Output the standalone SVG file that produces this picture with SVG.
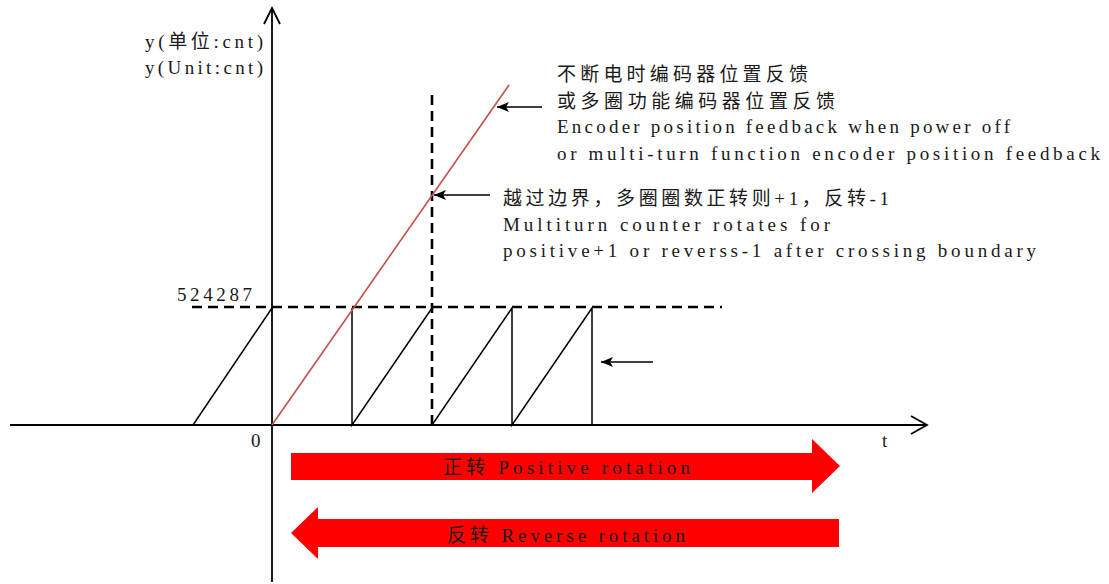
<svg xmlns="http://www.w3.org/2000/svg" width="1109" height="584" viewBox="0 0 1109 584">
<style>
text{font-family:"Liberation Serif","Noto Sans CJK SC",serif;font-size:19px;fill:#1a1a1a}
.ax{stroke:#000;stroke-width:1.8;fill:none}
.saw{stroke:#000;stroke-width:1.5;fill:none}
.dash{stroke:#000;stroke-width:2.6;stroke-dasharray:10 6;fill:none}
.red{stroke:#C0504D;stroke-width:1.6;fill:none}
.ptr{stroke:#000;stroke-width:1.6;fill:none;marker-end:url(#ah)}
.big{fill:#FF0000}
</style>
<defs>
<marker id="ah" viewBox="0 0 12 10" refX="12" refY="5" markerWidth="12" markerHeight="10" markerUnits="userSpaceOnUse" orient="auto">
<path d="M0,0 L12,5 L0,10 L3,5 Z" fill="#000"/>
</marker>
</defs>
<g id="axes">
<line class="ax" x1="272" y1="8" x2="272" y2="582"/>
<polyline class="ax" points="264,24 272,8 280,24"/>
<line class="ax" x1="10" y1="425" x2="926" y2="425"/>
<polyline class="ax" points="911,416 927,425 911,434"/>
<text x="145" y="48" textLength="118" lengthAdjust="spacing">y(单位:cnt)</text>
<text x="145" y="74" textLength="118" lengthAdjust="spacing">y(Unit:cnt)</text>
<text x="251" y="447">0</text>
<text x="882" y="447">t</text>
<text x="177" y="301" textLength="75" lengthAdjust="spacing">524287</text>
</g>
<g id="connectors">
<line class="dash" x1="192" y1="307" x2="722" y2="307"/>
<line class="dash" x1="432" y1="95" x2="432" y2="425"/>
<polyline class="saw" points="193,425 272,308"/>
<polyline class="saw" points="352,308 352,425 432,308"/>
<polyline class="saw" points="432,425 512,308 512,425 592,308 592,425"/>
<line class="red" x1="272" y1="425" x2="509" y2="85"/>
<line class="ptr" x1="542" y1="107" x2="497" y2="107"/>
<line class="ptr" x1="490" y1="195" x2="434" y2="195"/>
<line class="ptr" x1="653" y1="362" x2="601" y2="362"/>
</g>
<g id="note-feedback">
<text x="557" y="81" textLength="251" lengthAdjust="spacing">不断电时编码器位置反馈</text>
<text x="557" y="108" textLength="278" lengthAdjust="spacing">或多圈功能编码器位置反馈</text>
<text x="557" y="133" textLength="453" lengthAdjust="spacing">Encoder position feedback when power off</text>
<text x="557" y="160" textLength="543" lengthAdjust="spacing">or multi-turn function encoder position feedback</text>
</g>
<g id="note-boundary">
<text x="503" y="205" textLength="386" lengthAdjust="spacing">越过边界，多圈圈数正转则+1，反转-1</text>
<text x="503" y="231" textLength="327" lengthAdjust="spacing">Multiturn counter rotates for</text>
<text x="503" y="257" textLength="533" lengthAdjust="spacing">positive+1 or reverss-1 after crossing boundary</text>
</g>
<g id="positive-rotation">
<path class="big" d="M291,453 L812,453 L812,439 L840,466 L812,493 L812,480 L291,480 Z"/>
<text x="443" y="474" textLength="247" lengthAdjust="spacing">正转 Positive rotation</text>
</g>
<g id="reverse-rotation">
<path class="big" d="M839,519 L318,519 L318,507 L291,533 L318,559 L318,547 L839,547 Z"/>
<text x="447" y="542" textLength="238" lengthAdjust="spacing">反转 Reverse rotation</text>
</g>
</svg>
